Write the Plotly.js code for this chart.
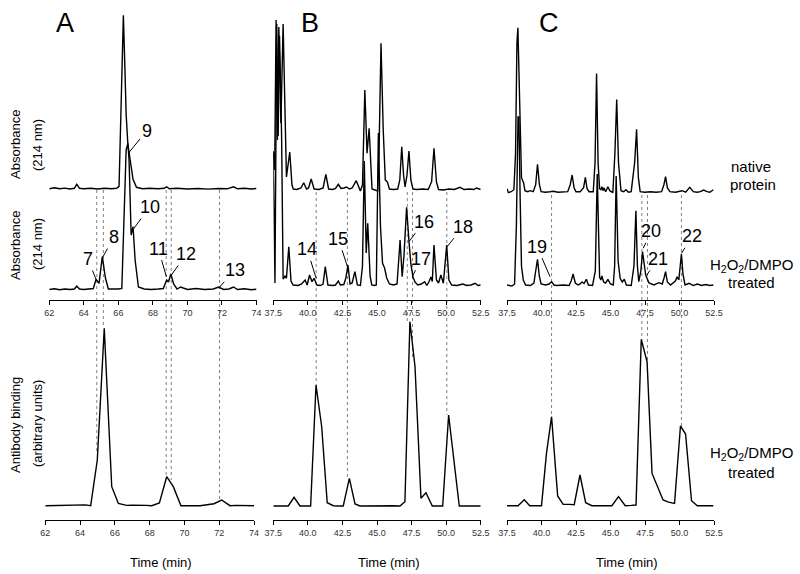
<!DOCTYPE html>
<html>
<head>
<meta charset="utf-8">
<script src="https://cdn.plot.ly/plotly-3.0.1.min.js"></script>
<style>html,body{margin:0;padding:0;background:#fff;}#chart{width:800px;height:574px;}</style>
</head>
<body>
<div id="chart"></div>
<script>
// ---------------- DATA ----------------
// Panel A (time in min, absorbance / antibody binding in arbitrary units above baseline)
const timeA_native = [62.0,62.3,62.6,62.9,63.2,63.45,63.59,63.75,64.0,64.4,64.8,65.2,65.6,65.9,66.04,66.17,66.29,66.38,66.45,66.55,66.7,66.85,67.05,67.4,67.8,68.3,68.65,68.8,68.95,69.4,70.0,70.6,71.2,71.8,72.3,72.67,72.9,73.3,73.7,74.0];
const absA_native  = [0.5,1.5,0.5,1.2,0.3,1,5,1,0.5,1,0.3,1,0.5,1,3,80,174,120,75,45,28,10,2,0.5,1,0.5,1,2.5,0.5,1,0.3,0.8,0.2,0.8,0.5,2.5,0.5,1,0.3,0.8];
const timeA_treated = [62.0,62.3,62.6,62.9,63.2,63.45,63.59,63.75,64.0,64.3,64.55,64.71,64.88,65.07,65.25,65.42,65.7,66.0,66.2,66.45,66.55,66.62,66.74,66.85,66.97,67.16,67.5,67.9,68.3,68.6,68.8,68.9,69.04,69.2,69.4,69.6,70.0,70.5,71.0,71.5,71.8,72.1,72.4,72.67,72.9,73.3,73.7,74.0];
const absA_treated  = [0.5,1.2,0.3,1.0,0.5,1.0,4,1,0.5,1,1.5,10.7,6.7,33.3,12,1,0.8,1,1.5,140,146.7,130,55,63.3,30,3,1,0.5,1,1.5,10,8,16,6,1,3,0.5,1.5,0.5,1,3,0.5,1,3,0.5,1.2,0.3,0.8];
const timeA_ab = [62.0,62.5,63.0,63.5,64.0,64.3,64.61,64.99,65.39,65.82,66.2,66.68,67.0,67.45,67.8,68.12,68.56,68.98,69.36,69.8,70.3,70.9,71.3,71.7,72.14,72.62,73.0,73.5,74.0];
const abA      = [0,0.3,0,0.3,0.5,0.8,0,45.7,177.3,19,2.3,0.3,0.5,0.7,0.3,0,2.7,29,19,0,0.3,0,1,2,5.7,0,0.3,0,0];

// Panel B
const timeB_native = [37.5,37.6,37.7,37.8,37.9,38.05,38.21,38.45,38.69,38.85,38.95,39.2,39.5,39.7,39.9,40.05,40.24,40.45,40.8,41.1,41.3,41.5,41.8,42.0,42.2,42.4,42.6,42.8,43.0,43.2,43.5,43.7,43.8,43.95,44.12,44.28,44.43,44.64,44.9,45.05,45.15,45.29,45.45,45.6,45.75,45.9,46.2,46.5,46.65,46.79,46.92,47.03,47.17,47.31,47.45,47.6,47.9,48.3,48.7,48.85,48.95,49.12,49.3,49.45,49.8,50.2,50.6,51.0,51.3,51.7,52.0,52.2,52.5];
const absB_native  = [38,20,170,50,163,67,166,13,38,5,1,0.5,2,7.3,1,2,11,1,0.5,2,15.7,1,0.5,1.5,5.7,1.5,2,3,1,2,9.3,1,-1,5,100,36.7,61.7,1,0,-1,40,146.7,60,10,8,1,0.5,1,10,43.3,15,3,15,39,10,1,0.5,1,0.5,5,8.3,41.7,8,0.5,0,1,0.5,2.7,0.5,1,0.5,2,0.5];
const timeB_treated = [37.5,37.62,37.75,37.85,37.95,38.1,38.21,38.35,38.45,38.62,38.78,38.93,39.3,39.55,39.8,39.95,40.12,40.3,40.45,40.65,40.9,41.1,41.26,41.45,41.8,42.0,42.2,42.35,42.6,42.75,42.9,43.05,43.2,43.4,43.58,43.8,43.95,44.08,44.22,44.33,44.5,44.62,44.8,44.95,45.1,45.25,45.4,45.55,45.7,45.9,46.2,46.45,46.67,46.82,46.95,47.14,47.31,47.45,47.6,47.75,47.95,48.2,48.45,48.6,48.75,48.9,49.0,49.12,49.3,49.45,49.62,49.8,50.04,50.2,50.4,50.8,51.2,51.5,51.8,52.1,52.3,52.5];
const absB_treated  = [135,3,262,150,250,150,7,10,7.7,39.3,5,1,0.5,2,6,1,11,4.3,7.7,1,0.5,2,19.3,1,0.5,1,5,1,1.5,8,21,2,3,14.3,1,0.5,20,125,33,62.7,10,1,0.5,1,153,60,22.7,18,8,2,1,2,46,9.3,30,78.7,45,22,9,4,1,2,4.3,0.5,4,9,4.5,41,6,3,11,2.7,41,6,1,0.5,2,0.5,1,2.7,0.5,1];
const timeB_ab = [37.5,38.0,38.58,39.0,39.43,39.8,40.2,40.59,41.0,41.4,41.84,42.2,42.56,43.0,43.41,43.77,44.5,45.0,45.7,46.2,46.66,47.02,47.38,47.75,48.18,48.54,49.0,49.4,49.75,50.18,50.95,51.5,52.0,52.5];
const abB      = [0,0,0,8.7,0,0,0,121,79.3,3.3,0.3,0,0,27.7,2,0,0.3,0.5,0.7,0.3,0,4.3,184.3,139.3,7.7,13.3,0,0,0,91,0,0,0.3,0];

// Panel C
const timeC_native = [37.5,37.6,37.8,38.0,38.12,38.22,38.29,38.36,38.45,38.55,38.7,38.8,39.0,39.18,39.4,39.58,39.71,39.85,39.97,40.3,40.6,40.85,41.2,41.6,41.9,42.08,42.22,42.36,42.5,42.8,43.05,43.18,43.3,43.45,43.75,43.88,43.99,44.1,44.21,44.3,44.38,44.45,44.52,44.65,44.81,44.95,45.17,45.32,45.45,45.58,45.76,45.95,46.12,46.3,46.5,46.75,46.89,47.02,47.15,47.5,47.9,48.3,48.7,48.87,48.99,49.12,49.3,49.7,50.19,50.45,50.74,51.0,51.27,51.5,51.75,52.0,52.2,52.45];
const absC_native  = [4,0,1,3,40,150,165,130,60,15,10,2,1,2,1,8,28.3,8,1,0.5,1,1.5,0.5,0.5,1,8,17.7,5,1,1,5,15.3,4,1,1,30,119.3,30,4,3,6,2,5,1,6,2,0,40,93.3,30,2,1,3,0.5,1,30,63.3,15,1,0.5,1,0.5,1,8,16,5,1,0.5,2,0.5,5.3,1,0.5,1,2.7,1,0.5,3];
const timeC_treated = [37.5,37.86,38.05,38.18,38.3,38.36,38.45,38.55,38.68,38.85,39.2,39.45,39.58,39.71,39.84,39.97,40.3,40.55,40.73,40.9,41.09,41.6,42.0,42.15,42.29,42.45,42.65,42.8,42.94,43.08,43.25,43.4,43.7,43.9,44.04,44.15,44.21,44.3,44.38,44.5,44.65,44.81,45.0,45.2,45.3,45.41,45.55,45.7,45.85,46.0,46.15,46.5,46.7,46.84,46.95,47.05,47.2,47.32,47.45,47.55,47.79,48.15,48.5,48.75,48.88,48.99,49.12,49.35,49.7,49.83,49.95,50.05,50.14,50.25,50.4,50.7,51.0,51.3,51.6,51.9,52.2,52.45];
const absC_treated  = [1,0,2,60,169,169,90,20,6,1,0.5,3,15,26.7,10,2,1,2,4.3,1,0.5,1,0.5,5,12,3,1,2,4,2.5,6.7,1,0.5,15,112,25,9,6,10,4,3,6.7,2,1,20,110,25,7.7,4,6.7,1,0.5,20,75.3,20,4.3,15,34.3,18,11,3,1,3.3,2,8,14.3,4,1,5,9.3,6,20,32,12,1,2.7,0.5,2,0.5,1.5,0.5,1];
const timeC_ab = [37.5,38.3,38.75,39.15,39.6,40.0,40.36,40.73,41.17,41.57,42.0,42.37,42.79,43.2,43.65,44.2,44.7,45.1,45.58,46.07,46.5,46.85,47.23,47.65,48.01,48.38,48.81,49.2,49.64,50.07,50.44,50.87,51.29,51.8,52.45];
const abC      = [0,0,6,0,0,0,52.3,89,9.7,1.3,1.3,1,30.7,3,0,0,0.3,0,9,0,0.3,0.7,166.3,144,32.3,20.7,5.7,3.5,2.3,79.7,71.7,5,0,0,0];

// Tick labels
const ticksA = [62,64,66,68,70,72,74];
const ticksBC = [37.5,40.0,42.5,45.0,47.5,50.0,52.5];
const tickTextBC = ["37.5","40.0","42.5","45.0","47.5","50.0","52.5"];

// Peak labels: number, time, absorbance of treated trace
const peaksA = {labels:["7","8","9","10","11","12","13"], t:[64.75,65.1,66.59,66.83,68.78,69.07,71.8], h:[9,33,137,60,13.3,15,1.7]};
const peaksB = {labels:["14","15","16","17","18"], t:[40.6,42.86,47.31,47.55,50.07], h:[7.7,19.3,44.3,9.3,39.3]};
const peaksC = {labels:["19","20","21","22"], t:[40.62,47.37,47.63,50.14], h:[9.3,37.7,11,32.7]};

// Dotted marker times (upper axis time)
const dotA = [64.75,65.13,68.77,69.06,71.86];
const dotB = [40.6,42.86,47.19,47.57,50.05];
const dotC = [40.73,47.27,47.68,50.14];

// ---------------- LAYOUT HELPERS ----------------
const W = 800, H = 574;
const P = px => px / W;
const Q = py => 1 - py / H;
const FONT = "Arial, 'Liberation Sans', Helvetica, sans-serif";
const lineStyle = {color: "#000", width: 1.4};

function tr(x, y, xa, ya) {
  return {x: x, y: y, xaxis: xa, yaxis: ya, type: "scatter", mode: "lines", line: lineStyle, hoverinfo: "skip"};
}

const data = [
  tr(timeA_treated, absA_treated, "x", "y"),
  tr(timeA_native, absA_native, "x", "y2"),
  tr(timeA_ab, abA, "x2", "y3"),
  tr(timeB_treated, absB_treated, "x3", "y4"),
  tr(timeB_native, absB_native, "x3", "y5"),
  tr(timeB_ab, abB, "x4", "y6"),
  tr(timeC_treated, absC_treated, "x5", "y7"),
  tr(timeC_native, absC_native, "x5", "y8"),
  tr(timeC_ab, abC, "x6", "y9")
];

function xax(pxL, pxR, range, tickvals, ticktext, anchor) {
  return {
    domain: [P(pxL), P(pxR)], range: range, anchor: anchor,
    showline: true, linecolor: "#000", linewidth: 1.2,
    ticks: "outside", ticklen: 4, tickwidth: 1, tickcolor: "#000",
    tickvals: tickvals, ticktext: ticktext, showgrid: false, zeroline: false,
    tickfont: {family: FONT, size: 9, color: "#333"}, fixedrange: true
  };
}
const upDom = [Q(300), Q(5)];
const loDom = [Q(520), Q(310)];
function yax(dom, base, anchor, overlay) {
  // base = pixel row of the trace baseline
  const top = dom === upDom ? 5 : 310;
  const bot = dom === upDom ? 300 : 520;
  const o = {domain: dom, range: [base - bot, base - top], anchor: anchor, visible: false,
             showgrid: false, zeroline: false, fixedrange: true};
  if (overlay) { o.overlaying = overlay; delete o.domain; }
  return o;
}

const layout = {
  width: W, height: H, margin: {l: 0, r: 0, t: 0, b: 0},
  paper_bgcolor: "#fff", plot_bgcolor: "rgba(0,0,0,0)", showlegend: false,
  font: {family: FONT, color: "#000"},
  xaxis:  xax(49.3, 256.5, [62, 74], ticksA, ticksA.map(String), "y"),
  xaxis2: xax(45.3, 254, [62, 74], ticksA, ticksA.map(String), "y3"),
  xaxis3: xax(273.3, 480.7, [37.5, 52.5], ticksBC, tickTextBC, "y4"),
  xaxis4: xax(273.3, 480.7, [37.5, 52.5], ticksBC, tickTextBC, "y6"),
  xaxis5: xax(507, 714, [37.5, 52.5], ticksBC, tickTextBC, "y7"),
  xaxis6: xax(507, 714, [37.5, 52.5], ticksBC, tickTextBC, "y9"),
  yaxis:  yax(upDom, 290, "x"),
  yaxis2: yax(upDom, 189.3, "x", "y"),
  yaxis3: yax(loDom, 505.7, "x2"),
  yaxis4: yax(upDom, 286, "x3"),
  yaxis5: yax(upDom, 190, "x3", "y4"),
  yaxis6: yax(loDom, 506, "x4"),
  yaxis7: yax(upDom, 286, "x5"),
  yaxis8: yax(upDom, 192.7, "x5", "y7"),
  yaxis9: yax(loDom, 505.7, "x6"),
  shapes: [], annotations: []
};

// dotted connector lines
const dotStyle = {color: "#808080", width: 1, dash: "dot"};
function addDots(times, xref, topPy, bottoms) {
  times.forEach((t, i) => {
    layout.shapes.push({type: "line", xref: xref, yref: "paper", x0: t, x1: t,
      y0: Q(topPy), y1: Q(bottoms[i]), line: dotStyle, layer: "below"});
  });
}
addDots(dotA, "x", 190, [453, 328, 477, 480, 500]);
addDots(dotB, "x3", 192, [385, 478, 323, 357, 415]);
addDots(dotC, "x5", 195, [417, 340, 362, 427]);

// peak labels
function addPeaks(pk, xref, yref, offs) {
  pk.labels.forEach((lab, i) => {
    layout.annotations.push({text: lab, x: pk.t[i], y: pk.h[i], xref: xref, yref: yref,
      showarrow: true, arrowhead: 0, arrowwidth: 1, arrowcolor: "#000", standoff: 0,
      ax: offs[i][0], ay: offs[i][1], font: {family: FONT, size: 18, color: "#000"}});
  });
}
addPeaks(peaksA, "x", "y", [[-9,-22],[11,-20],[18,-22],[17,-23],[-8,-28],[15,-21],[16,-18]]);
addPeaks(peaksB, "x3", "y4", [[-9,-29],[-9,-28],[15,-20],[9,-18],[16,-20]]);
addPeaks(peaksC, "x5", "y7", [[-13,-30],[8,-17],[11,-16],[11,-17]]);

// free text
function txt(s, px, py, size, angle) {
  layout.annotations.push({text: s, x: P(px), y: Q(py), xref: "paper", yref: "paper",
    showarrow: false, xanchor: "center", yanchor: "middle", textangle: angle || 0,
    font: {family: FONT, size: size, color: "#000"}});
}
txt("A", 64.5, 23, 27);
txt("B", 310, 23, 27);
txt("C", 548.5, 23, 27);
txt("Absorbance", 15, 145, 13, -90);
txt("(214 nm)", 37, 145, 13, -90);
txt("Absorbance", 15, 246, 13, -90);
txt("(214 nm)", 37, 244, 13, -90);
txt("Antibody binding", 15, 425, 13, -90);
txt("(arbitrary units)", 37, 424, 13, -90);
txt("native", 751, 167, 15);
txt("protein", 752.5, 184.5, 15);
txt("H<sub>2</sub>O<sub>2</sub>/DMPO", 751.5, 265, 15);
txt("treated", 751.5, 282, 15);
txt("H<sub>2</sub>O<sub>2</sub>/DMPO", 751, 453, 15);
txt("treated", 751, 472, 15);
txt("Time (min)", 161, 562, 13);
txt("Time (min)", 389, 562, 13);
txt("Time (min)", 627, 562, 13);

Plotly.newPlot("chart", data, layout, {staticPlot: true, displayModeBar: false});
</script>
</body>
</html>
